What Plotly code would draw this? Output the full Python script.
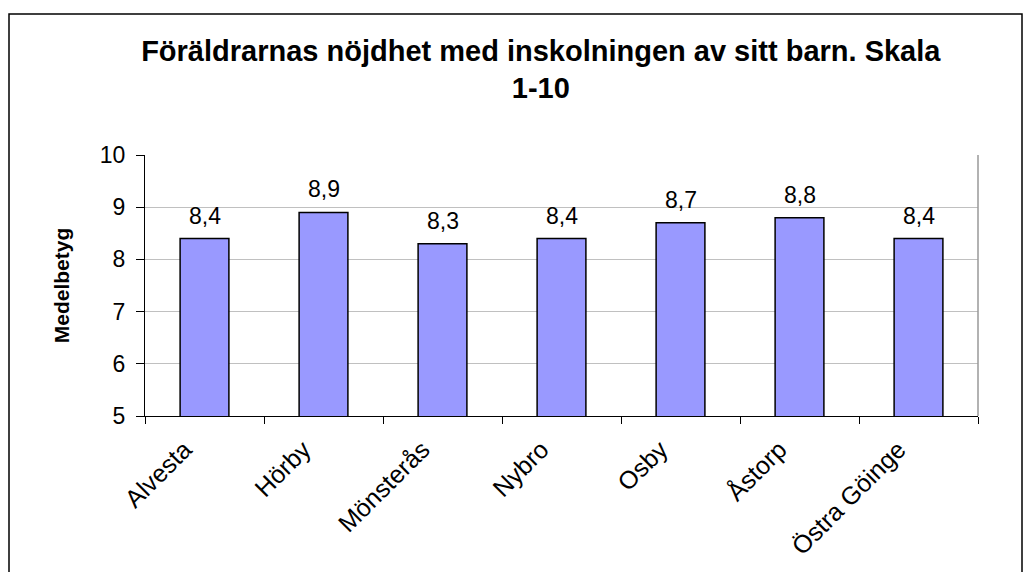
import plotly.graph_objects as go

categories = ["Alvesta", "Hörby", "Mönsterås", "Nybro", "Osby", "Åstorp", "Östra Göinge"]
values = [8.4, 8.9, 8.3, 8.4, 8.7, 8.8, 8.4]
y_ticks = [5, 6, 7, 8, 9, 10]

FONT = "Liberation Sans, Arial, sans-serif"

fig = go.Figure()
fig.add_trace(go.Bar(
    x=categories, y=values,
    marker=dict(color="#9999FF", line=dict(color="black", width=1.5)),
    width=0.41,
    hoverinfo="skip",
))

for c, v in zip(categories, values):
    fig.add_annotation(
        x=c, y=v, text=f"{v:.1f}".replace(".", ","),
        showarrow=False, yanchor="bottom", yshift=8,
        font=dict(family=FONT, size=23, color="black"),
    )

fig.update_layout(
    width=1034, height=572,
    margin=dict(l=145, r=56, t=155, b=156),
    paper_bgcolor="white", plot_bgcolor="white",
    showlegend=False,
    title=dict(
        text="<b>Föräldrarnas nöjdhet med inskolningen av sitt barn. Skala<br>1-10</b>",
        x=0.523, xanchor="center", y=0.894, yanchor="middle",
        font=dict(family=FONT, size=29, color="black"),
    ),
    xaxis=dict(
        showline=True, linecolor="black", linewidth=1,
        ticks="outside", tickson="boundaries", ticklen=7, tickcolor="black",
        tickangle=-45, tickfont=dict(family=FONT, size=25, color="black"),
        ticklabelshift=-20, ticklabelstandoff=8,
        mirror=False, showgrid=False,
    ),
    yaxis=dict(
        range=[5, 10], tickvals=y_ticks,
        showline=True, linecolor="black", linewidth=1,
        ticks="outside", ticklen=8, tickcolor="black",
        ticklabelstandoff=6,
        tickfont=dict(family=FONT, size=23, color="black"),
        showgrid=True, gridcolor="#C0C0C0", gridwidth=1,
        title=dict(text="<b>Medelbetyg</b>", font=dict(family=FONT, size=21, color="black"), standoff=24),
    ),
    shapes=[
        dict(type="line", xref="paper", yref="paper", x0=1, x1=1, y0=0, y1=1,
             line=dict(color="#999999", width=1.5)),
        dict(type="rect", xref="paper", yref="paper",
             x0=(9 - 145) / 833, x1=(1022 - 145) / 833,
             y0=(416 - 590) / 261, y1=(416 - 14) / 261,
             line=dict(color="black", width=1.5), layer="below"),
    ],
)

fig.write_html("out.html", config={"displayModeBar": False},
               post_script="document.body.style.margin='0';")
